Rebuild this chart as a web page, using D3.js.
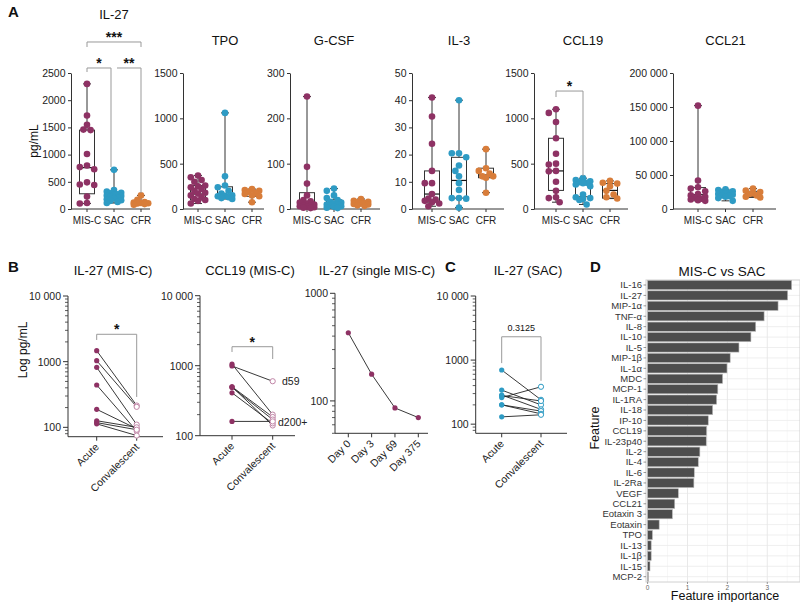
<!DOCTYPE html>
<html><head><meta charset="utf-8">
<script src="https://cdn.jsdelivr.net/npm/d3@7"></script>
<style>body{margin:0;background:#fff;} svg{display:block;}</style>
</head><body>
<script>
// ---------------- DATA ----------------
const groupsA = ["MIS-C", "SAC", "CFR"];

const il27Pts = [
  [2300, 1720, 1550, 1460, 1450, 1010, 800, 770, 730, 490, 450, 440, 230, 110, 100],
  [720, 350, 320, 300, 290, 270, 260, 250, 240, 230, 210, 200, 180, 160, 150, 130, 110],
  [250, 170, 130, 120, 110, 105, 100, 90, 80]
];
const il27Box = [[100, 280, 760, 1450, 2300], [110, 170, 240, 300, 720], [80, 90, 110, 130, 250]];
const il27Ticks = [0, 500, 1000, 1500, 2000, 2500];

const tpoPts = [
  [370, 350, 320, 300, 260, 250, 240, 220, 200, 180, 170, 150, 130, 110, 100, 90, 60],
  [1060, 360, 260, 240, 200, 170, 150, 145, 140, 130, 120, 110],
  [220, 210, 200, 190, 175, 165, 150, 140, 75]
];
const tpoBox = [[60, 100, 165, 260, 370], [110, 135, 150, 245, 1060], [75, 140, 170, 205, 220]];
const tpoTicks = [0, 500, 1000, 1500];

const gcsfPts = [
  [248, 93, 56, 30, 20, 17, 14, 12, 10, 8, 7, 6, 5, 4, 3, 2],
  [45, 40, 30, 24, 20, 16, 14, 12, 10, 9, 8, 6, 5, 3, 2],
  [22, 18, 16, 15, 13, 12, 11, 10, 8, 7]
];
const gcsfBox = [[2, 4, 8, 36, 248], [2, 6, 12, 20, 45], [7, 9, 12, 16, 22]];
const gcsfTicks = [0, 100, 200, 300];

const il3Pts = [
  [41, 34, 24, 14, 9.5, 9.5, 5.5, 3.8, 3.5, 3, 2.5, 2, 1],
  [40, 20.5, 20.5, 19, 16, 14, 12, 9.5, 7, 4, 4, 3.8, 0.5],
  [22, 15, 14, 13, 12, 12, 11.5, 6]
];
const il3Box = [[1, 2.5, 5.5, 14, 41], [0.5, 4, 10.5, 19, 40], [6, 11.5, 12.5, 15, 22]];
const il3Ticks = [0, 10, 20, 30, 40, 50];

const ccl19Pts = [
  [1100, 1060, 960, 780, 610, 500, 490, 420, 415, 300, 200, 130, 120, 75],
  [340, 320, 305, 295, 290, 285, 270, 250, 160, 130, 120, 110, 100, 50],
  [310, 290, 280, 250, 200, 160, 130, 115]
];
const ccl19Box = [[75, 205, 420, 780, 1100], [50, 135, 285, 300, 340], [115, 120, 205, 280, 310]];
const ccl19Ticks = [0, 500, 1000, 1500];

const ccl21Pts = [
  [152000, 42000, 32000, 30000, 26000, 22000, 20000, 18000, 17000, 15000, 14000, 13000, 12000],
  [29000, 28000, 26000, 25000, 24000, 23000, 22000, 21000, 20000, 19000, 18000, 16000, 12000],
  [30000, 27000, 25000, 23000, 22000, 20000, 18000, 17000]
];
const ccl21Box = [[12000, 16000, 21000, 31500, 152000], [12000, 19000, 22000, 25000, 29000], [17000, 18500, 22500, 26000, 30000]];
const ccl21Ticks = [0, 50000, 100000, 150000, 200000];

// Panel B / C
const pairCats = ["Acute", "Convalescent"];
const il27MisAcute = [1470, 1035, 820, 441, 188, 126, 118, 113];
const il27MisConv  = [215, 205, 110, 88, 95, 100, 92, 75];
const ccl19MisAcute = [1050, 990, 500, 490, 500, 410, 160];
const ccl19MisConv  = [200, 600, 185, 170, 140, 150, 160];
const singleDays = ["Day 0", "Day 3", "Day 69", "Day 375"];
const singleVals = [430, 177, 86, 70];
const il27SacAcute = [700, 340, 285, 280, 260, 200, 200, 130];
const il27SacConv  = [240, 200, 170, 230, 383, 160, 145, 140];

// Panel D
const features = ["IL-16", "IL-27", "MIP-1α", "TNF-α", "IL-8", "IL-10", "IL-5", "MIP-1β", "IL-1α", "MDC",
  "MCP-1", "IL-1RA", "IL-18", "IP-10", "CCL19", "IL-23p40", "IL-2", "IL-4", "IL-6", "IL-2Ra",
  "VEGF", "CCL21", "Eotaxin 3", "Eotaxin", "TPO", "IL-13", "IL-1β", "IL-15", "MCP-2"];
const importance = [3.61, 3.51, 3.27, 2.92, 2.71, 2.59, 2.29, 2.07, 1.99, 1.88,
  1.76, 1.73, 1.63, 1.52, 1.48, 1.47, 1.31, 1.27, 1.17, 1.16,
  0.77, 0.68, 0.62, 0.29, 0.12, 0.09, 0.09, 0.06, 0.02];
const importanceTicks = [0, 1, 2, 3];

// ---------------- STYLE ----------------
const FONT = "'Liberation Sans', Arial, Helvetica, sans-serif";
const COL = ["#8e3264", "#2e9bc4", "#d87d3a"];
const MIS_OPEN = "#c084a6";
const AX = "#333";

const svg = d3.select("body").append("svg").attr("width", 800).attr("height", 602)
  .style("font-family", FONT);

function txt(g, x, y, s, size, opts = {}) {
  const t = g.append("text").attr("x", x).attr("y", y).text(s)
    .attr("font-size", size).attr("fill", opts.fill || "#111")
    .attr("text-anchor", opts.anchor || "middle");
  if (opts.weight) t.attr("font-weight", opts.weight);
  if (opts.transform) t.attr("transform", opts.transform);
  return t;
}
function line(g, x1, y1, x2, y2, stroke, w) {
  return g.append("line").attr("x1", x1).attr("y1", y1).attr("x2", x2).attr("y2", y2)
    .attr("stroke", stroke || AX).attr("stroke-width", w || 1);
}
// deterministic, width-limited beeswarm
function beeswarm(vals, y, cx, r, step, maxJ) {
  const placed = [];
  const order = vals.map(v => ({ v, py: y(v) })).sort((a, b) => a.py - b.py);
  const cands = [0];
  for (let j = 1; j <= maxJ; j++) cands.push(-j * step, j * step);
  order.forEach(o => {
    let best = cands[0], bestD = -1, chosen;
    for (const c of cands) {
      let md = Infinity;
      placed.forEach(p => { md = Math.min(md, Math.hypot(p.px - (cx + c), p.py - o.py)); });
      if (md >= 2 * r * 0.85) { chosen = c; break; }
      if (md > bestD) { bestD = md; best = c; }
    }
    o.px = cx + (chosen === undefined ? best : chosen);
    placed.push(o);
  });
  return placed;
}
const spaceFmt = v => d3.format(",")(v).replace(/,/g, " ");

// Panel letters
txt(svg, 8, 17, "A", 15, { anchor: "start", weight: "bold" });
txt(svg, 8, 272, "B", 15, { anchor: "start", weight: "bold" });
txt(svg, 445, 272, "C", 15, { anchor: "start", weight: "bold" });
txt(svg, 590, 272, "D", 15, { anchor: "start", weight: "bold" });

// ---------------- PANEL A ----------------
const layoutA = [
  { title: "IL-27", pts: il27Pts, box: il27Box, ticks: il27Ticks, ax: 71, cats: [87, 141], xEnd: 150, titleY: 19, fmt: d3.format("") },
  { title: "TPO", pts: tpoPts, box: tpoBox, ticks: tpoTicks, ax: 183, cats: [198, 252], xEnd: 264, titleY: 45, fmt: d3.format("") },
  { title: "G-CSF", pts: gcsfPts, box: gcsfBox, ticks: gcsfTicks, ax: 290, cats: [307, 361], xEnd: 380, titleY: 45, fmt: d3.format("") },
  { title: "IL-3", pts: il3Pts, box: il3Box, ticks: il3Ticks, ax: 412, cats: [432, 486], xEnd: 504, titleY: 45, fmt: d3.format("") },
  { title: "CCL19", pts: ccl19Pts, box: ccl19Box, ticks: ccl19Ticks, ax: 534, cats: [556, 610], xEnd: 628, titleY: 45, fmt: d3.format("") },
  { title: "CCL21", pts: ccl21Pts, box: ccl21Box, ticks: ccl21Ticks, ax: 673, cats: [698, 753], xEnd: 776, titleY: 45, fmt: spaceFmt }
];
const yA0 = 209, yA1 = 73;
const scalesA = [];
layoutA.forEach(L => {
  const g = svg.append("g");
  const y = d3.scaleLinear().domain([0, d3.max(L.ticks)]).range([yA0, yA1]);
  const x = d3.scalePoint().domain(groupsA).range(L.cats);
  scalesA.push({ x, y });
  const ya = g.append("g").attr("transform", `translate(${L.ax},0)`)
    .call(d3.axisLeft(y).tickValues(L.ticks).tickFormat(L.fmt).tickSize(3).tickPadding(2.5).tickSizeOuter(0));
  ya.select(".domain").attr("stroke", AX);
  ya.selectAll(".tick line").attr("stroke", AX);
  ya.selectAll("text").attr("font-size", 10.5).attr("font-family", FONT).attr("fill", "#222");
  line(g, L.ax, yA0, L.xEnd, yA0);
  groupsA.forEach(c => {
    line(g, x(c), yA0, x(c), yA0 + 3);
    txt(g, x(c), yA0 + 15, c, 10, { fill: "#222" });
  });
  txt(g, x("SAC"), L.titleY, L.title, 13);
  groupsA.forEach((c, i) => {
    const [mn, q1, md, q3, mx] = L.box[i];
    const cx = x(c), bw = 15, cw = 8;
    line(g, cx, y(mx), cx, y(q3), AX, 1);
    line(g, cx, y(q1), cx, y(mn), AX, 1);
    line(g, cx - cw / 2, y(mx), cx + cw / 2, y(mx), AX, 1);
    line(g, cx - cw / 2, y(mn), cx + cw / 2, y(mn), AX, 1);
    g.append("rect").attr("x", cx - bw / 2).attr("y", y(q3)).attr("width", bw)
      .attr("height", y(q1) - y(q3)).attr("fill", "none").attr("stroke", AX).attr("stroke-width", 1);
    line(g, cx - bw / 2, y(md), cx + bw / 2, y(md), "#111", 1.2);
  });
  groupsA.forEach((c, i) => {
    const pl = beeswarm(L.pts[i], y, x(c), 3.3, 3.6, 2);
    g.selectAll(null).data(pl).enter().append("circle")
      .attr("cx", d => d.px).attr("cy", d => d.py).attr("r", 3.3)
      .attr("fill", COL[i]);
  });
});
txt(svg, 0, 0, "pg/mL", 12, { transform: "translate(38,141) rotate(-90)" });

function bracket(g, x1, x2, yTop, yL, yR, label) {
  g.append("path").attr("d", `M${x1},${yL}V${yTop}H${x2}V${yR}`)
    .attr("fill", "none").attr("stroke", "#999").attr("stroke-width", 1);
  txt(g, (x1 + x2) / 2, yTop, label, 14, { weight: "bold" });
}
{
  const { x, y } = scalesA[0];
  const g = svg.append("g");
  bracket(g, x("MIS-C"), x("CFR"), y(3070), y(2978), y(2978), "***");
  bracket(g, x("MIS-C"), x("SAC") - 3, y(2592), y(2518), y(772), "*");
  bracket(g, x("SAC") + 3, x("CFR"), y(2592), y(2592), y(294), "**");
}
{
  const { x, y } = scalesA[4];
  const g = svg.append("g");
  bracket(g, x("MIS-C"), x("SAC"), y(1301), y(1235), y(364), "*");
}

// ---------------- PANEL B / C (log plots) ----------------
function logAxis(g, y, ax, domain) {
  line(g, ax, y(domain[0]), ax, y(domain[1]));
  const lo = Math.floor(Math.log10(domain[0])), hi = Math.ceil(Math.log10(domain[1]));
  for (let e = lo; e <= hi; e++) {
    for (let k = 1; k <= 9; k++) {
      const v = k * Math.pow(10, e);
      if (v < domain[0] - 1e-9 || v > domain[1] + 1e-9) continue;
      const major = k === 1;
      line(g, ax - (major ? 5 : 3), y(v), ax, y(v), AX, major ? 1 : 0.8);
      if (major) txt(g, ax - 7, y(v) + 4, v >= 10000 ? spaceFmt(v) : String(v), 10.5, { anchor: "end", fill: "#222" });
    }
  }
}
function rotLabels(g, x, axisY, cats) {
  cats.forEach(c => {
    line(g, x(c), axisY, x(c), axisY + 4);
    txt(g, 0, 0, c, 10.5, { anchor: "end", fill: "#222", transform: `translate(${x(c) + 3},${axisY + 11}) rotate(-45)` });
  });
}
function pairedPlot(cfg) {
  const g = svg.append("g");
  const y = d3.scaleLog().domain(cfg.domain).range(cfg.yr);
  const x = d3.scalePoint().domain(pairCats).range(cfg.xr);
  logAxis(g, y, cfg.ax, cfg.domain);
  line(g, cfg.ax, cfg.yr[0], cfg.xEnd, cfg.yr[0]);
  rotLabels(g, x, cfg.yr[0], pairCats);
  txt(g, cfg.titleX, 275, cfg.title, 13);
  cfg.acute.forEach((a, i) => line(g, x("Acute"), y(a), x("Convalescent"), y(cfg.conv[i]), "#222", 0.9));
  g.selectAll(null).data(cfg.acute).enter().append("circle")
    .attr("cx", x("Acute")).attr("cy", d => y(d)).attr("r", 2.6).attr("fill", cfg.color);
  g.selectAll(null).data(cfg.conv).enter().append("circle")
    .attr("cx", x("Convalescent")).attr("cy", d => y(d)).attr("r", 2.6)
    .attr("fill", "#fff").attr("stroke", cfg.open).attr("stroke-width", 1);
  const b = cfg.br;
  g.append("path").attr("d", `M${x("Acute")},${y(b[1])}V${y(b[0])}H${x("Convalescent")}V${y(b[2])}`)
    .attr("fill", "none").attr("stroke", "#999").attr("stroke-width", 1);
  if (b[3] === "*") txt(g, (x("Acute") + x("Convalescent")) / 2, y(b[0]), "*", 14, { weight: "bold" });
  else txt(g, (x("Acute") + x("Convalescent")) / 2, y(b[0]) - 6, b[3], 9);
  return { g, x, y };
}
pairedPlot({ title: "IL-27 (MIS-C)", titleX: 113, domain: [72, 10000], yr: [436.7, 296], ax: 68, xr: [96.7, 136.7], xEnd: 163,
  acute: il27MisAcute, conv: il27MisConv, color: COL[0], open: MIS_OPEN, br: [2612, 2140, 290, "*"] });
const p2 = pairedPlot({ title: "CCL19 (MIS-C)", titleX: 250, domain: [100, 10000], yr: [435.7, 295.7], ax: 200, xr: [232, 272.7], xEnd: 295,
  acute: ccl19MisAcute, conv: ccl19MisConv, color: COL[0], open: MIS_OPEN, br: [1868, 1570, 1247, "*"] });
txt(p2.g, 282, p2.y(600) + 4, "d59", 10.5, { anchor: "start", fill: "#222" });
txt(p2.g, 278, p2.y(155) + 4, "d200+", 10.5, { anchor: "start", fill: "#222" });
pairedPlot({ title: "IL-27 (SAC)", titleX: 528, domain: [72, 10000], yr: [433.3, 296], ax: 475.7, xr: [501.7, 541], xEnd: 567,
  acute: il27SacAcute, conv: il27SacConv, color: COL[1], open: COL[1], br: [2311, 897, 475, "0.3125"] });
txt(svg, 0, 0, "Log pg/mL", 12, { transform: "translate(27,350) rotate(-90)" });

{
  const g = svg.append("g");
  const dom = [50, 1000];
  const y = d3.scaleLog().domain(dom).range([433.3, 293.3]);
  const x = d3.scalePoint().domain(singleDays).range([348.3, 418.3]);
  logAxis(g, y, 335, dom);
  line(g, 335, 433.3, 428, 433.3);
  rotLabels(g, x, 433.3, singleDays);
  txt(g, 377, 275, "IL-27 (single MIS-C)", 13);
  g.append("path").datum(singleVals)
    .attr("d", d3.line().x((d, i) => x(singleDays[i])).y(d => y(d)))
    .attr("fill", "none").attr("stroke", "#222").attr("stroke-width", 0.9);
  g.selectAll(null).data(singleVals).enter().append("circle")
    .attr("cx", (d, i) => x(singleDays[i])).attr("cy", d => y(d)).attr("r", 2.6).attr("fill", COL[0]);
}

// ---------------- PANEL D ----------------
{
  const g = svg.append("g");
  const L = 646, R = 800, T = 280, B = 582;
  const x = d3.scaleLinear().domain([-0.04, 3.82]).range([L, R]);
  const y = d3.scalePoint().domain(features).range([285, 576.7]);
  [0.5, 1.5, 2.5, 3.5].forEach(v => line(g, x(v), T, x(v), B, "#f2f2f2", 0.6));
  features.forEach(f => line(g, L, y(f), R, y(f), "#ebebeb", 0.8));
  importanceTicks.forEach(v => line(g, x(v), T, x(v), B, "#e6e6e6", 0.9));
  g.append("rect").attr("x", L).attr("y", T).attr("width", R - L).attr("height", B - T)
    .attr("fill", "none").attr("stroke", "#d0d0d0").attr("stroke-width", 1);
  g.selectAll(null).data(features).enter().append("rect")
    .attr("x", x(0)).attr("y", f => y(f) - 4.6)
    .attr("width", (f, i) => x(importance[i]) - x(0)).attr("height", 9.2)
    .attr("fill", "#4d4d4d").attr("stroke", "#b8b8b8").attr("stroke-width", 0.6);
  features.forEach(f => {
    line(g, L - 2.5, y(f), L, y(f), "#555", 0.6);
    txt(g, L - 4, y(f) + 3.3, f, 9.5, { anchor: "end", fill: "#333" });
  });
  importanceTicks.forEach(v => {
    line(g, x(v), B, x(v), B + 2, "#555", 0.6);
    txt(g, x(v), B + 7.5, String(v), 6.5, { fill: "#666" });
  });
  txt(g, 722, 276, "MIS-C vs SAC", 13.5);
  txt(g, 725, 600, "Feature importance", 12.5);
  txt(g, 0, 0, "Feature", 12.5, { transform: `translate(599,428) rotate(-90)` });
}
</script>
</body></html>
